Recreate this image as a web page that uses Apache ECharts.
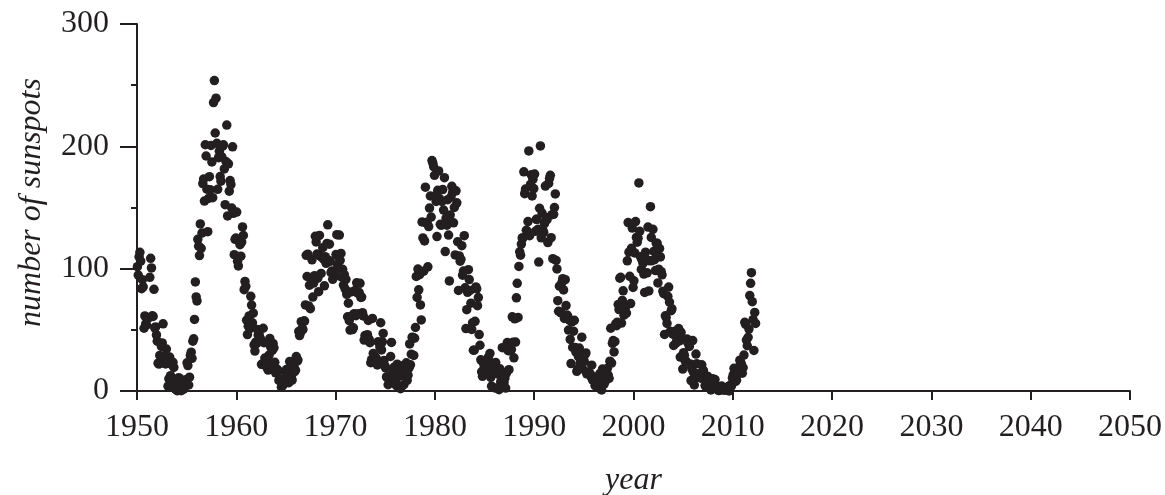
<!DOCTYPE html>
<html>
<head>
<meta charset="utf-8">
<script src="https://cdn.jsdelivr.net/npm/echarts@6/dist/echarts.min.js"></script>
<style>
html,body{margin:0;padding:0;background:#fff;overflow:hidden;}
#chart{width:1165px;height:495px;}
</style>
</head>
<body>
<div id="chart"></div>
<script>
// Monthly sunspot numbers, January of the first year onward
const startYear = 1950;
const spots1950s = [
  101.6, 94.8, 109.7, 113.4, 106.2, 83.6, 91.0, 85.2, 51.3, 61.4, 54.8, 54.1,
  59.9, 59.9, 59.9, 92.9, 108.5, 100.6, 61.5, 61.0, 83.1, 51.6, 52.4, 45.8,
  40.7, 22.7, 22.0, 29.1, 23.4, 36.4, 39.3, 54.9, 28.2, 23.8, 22.1, 34.3,
  26.5, 3.9, 10.0, 27.8, 12.5, 21.8, 8.6, 23.5, 19.3, 8.2, 1.6, 2.5,
  0.2, 0.5, 10.9, 1.8, 0.8, 0.2, 4.8, 8.4, 1.5, 7.0, 9.2, 7.6,
  23.1, 20.8, 4.9, 11.3, 28.9, 31.7, 26.7, 40.7, 42.7, 58.5, 89.2, 76.9,
  73.6, 124.0, 118.4, 110.7, 136.6, 116.6, 129.1, 169.6, 173.2, 155.3, 201.3, 192.1,
  165.0, 130.2, 157.4, 175.2, 164.6, 200.7, 187.2, 158.0, 235.8, 253.8, 210.9, 239.4,
  202.5, 164.9, 190.7, 196.0, 175.3, 171.5, 191.4, 200.2, 201.2, 181.5, 152.3, 187.6,
  217.4, 143.1, 185.7, 163.3, 172.0, 168.7, 149.6, 199.6, 145.2, 111.4, 124.0, 125.0
];
const spots1960s = [
  146.3, 106.0, 102.2, 122.0, 119.6, 110.2, 121.7, 134.1, 127.2, 82.8, 89.6, 85.6,
  57.9, 46.1, 53.0, 61.4, 51.0, 77.4, 70.2, 55.8, 63.6, 37.7, 32.6, 39.9,
  38.7, 50.3, 45.6, 46.4, 43.7, 42.0, 21.8, 21.8, 51.3, 39.5, 26.9, 23.2,
  19.8, 24.4, 17.1, 29.3, 43.0, 35.9, 19.6, 33.2, 38.8, 35.3, 23.4, 14.9,
  15.3, 17.7, 16.5, 8.6, 9.5, 9.1, 3.1, 9.3, 4.7, 6.1, 7.4, 15.1,
  17.5, 14.2, 11.7, 6.8, 24.1, 15.9, 11.9, 8.9, 16.8, 20.1, 15.8, 17.0,
  28.2, 24.4, 25.3, 48.7, 45.3, 47.7, 56.7, 51.2, 50.2, 57.2, 57.2, 70.4,
  110.9, 93.6, 111.8, 69.5, 86.5, 67.3, 91.5, 107.2, 76.8, 88.2, 94.3, 126.4,
  121.8, 111.9, 92.2, 81.2, 127.2, 110.3, 96.1, 109.3, 117.2, 107.7, 86.0, 109.8,
  104.4, 120.5, 135.8, 106.8, 120.0, 106.0, 96.8, 98.0, 91.3, 95.7, 93.5, 97.9
];
const spots1970s = [
  111.5, 127.8, 102.9, 109.5, 127.5, 106.8, 112.5, 93.0, 99.5, 86.6, 95.2, 83.5,
  91.3, 79.0, 60.7, 71.8, 57.5, 49.8, 81.0, 61.4, 50.2, 51.7, 63.2, 82.2,
  61.5, 88.4, 80.1, 63.2, 80.5, 88.0, 76.5, 76.8, 64.0, 61.3, 41.6, 45.3,
  43.4, 42.9, 46.0, 57.7, 42.4, 39.5, 23.1, 25.6, 59.3, 30.7, 23.9, 23.3,
  27.6, 26.0, 21.3, 40.3, 39.5, 36.0, 55.8, 33.6, 40.2, 47.1, 25.0, 20.5,
  18.9, 11.5, 11.5, 5.1, 9.0, 11.4, 28.2, 39.7, 13.9, 9.1, 19.4, 7.8,
  8.1, 4.3, 21.9, 18.8, 12.4, 12.2, 1.9, 16.4, 13.5, 20.6, 5.2, 15.3,
  16.4, 23.1, 8.7, 12.9, 18.6, 38.5, 21.4, 30.1, 44.0, 43.8, 29.1, 43.2,
  51.9, 93.6, 76.5, 99.7, 82.7, 95.1, 70.4, 58.1, 138.2, 125.1, 97.9, 122.7,
  166.6, 137.5, 138.0, 101.5, 134.4, 149.5, 159.4, 142.2, 188.4, 186.2, 183.3, 176.3
];
const spots1980s = [
  159.6, 155.0, 126.2, 164.1, 179.9, 157.3, 136.3, 135.4, 155.0, 164.7, 147.9, 174.4,
  114.0, 141.3, 135.5, 156.4, 127.5, 90.0, 143.8, 158.7, 167.3, 162.4, 137.5, 150.1,
  111.2, 163.6, 153.8, 122.0, 82.2, 110.4, 106.1, 107.6, 118.8, 94.7, 98.1, 127.0,
  84.3, 51.0, 66.5, 80.7, 99.2, 91.1, 82.2, 71.8, 50.3, 55.8, 33.3, 33.4,
  57.0, 85.1, 83.5, 69.7, 76.4, 46.1, 37.4, 25.5, 15.7, 12.0, 22.8, 18.7,
  16.5, 15.9, 17.2, 16.2, 27.5, 24.2, 30.7, 11.1, 3.9, 18.6, 16.2, 17.3,
  2.5, 23.2, 15.1, 18.5, 13.7, 1.1, 18.1, 7.4, 3.8, 35.4, 15.2, 6.8,
  10.4, 2.4, 14.7, 39.6, 33.0, 17.4, 33.0, 38.7, 33.9, 60.6, 39.9, 27.1,
  59.0, 40.0, 76.2, 88.0, 60.1, 101.8, 113.8, 111.0, 120.1, 125.1, 125.1, 179.2,
  161.3, 165.1, 131.4, 130.6, 138.5, 196.2, 126.9, 168.9, 176.7, 159.4, 173.0, 165.5
];
const spots1990s = [
  177.3, 130.5, 140.3, 140.3, 132.2, 105.4, 149.4, 200.3, 125.2, 145.5, 131.4, 129.7,
  136.9, 167.5, 141.9, 140.0, 121.3, 169.7, 173.7, 176.3, 125.3, 144.1, 108.2, 144.4,
  150.0, 161.1, 106.7, 99.8, 73.8, 65.2, 85.7, 64.5, 63.9, 88.7, 91.8, 82.6,
  59.3, 91.0, 69.8, 62.2, 61.3, 49.8, 57.9, 42.2, 22.4, 56.4, 35.6, 48.9,
  57.8, 35.5, 31.7, 16.1, 17.8, 28.0, 35.1, 22.5, 25.7, 44.0, 18.0, 26.2,
  24.2, 29.9, 31.1, 14.0, 14.5, 15.6, 14.5, 14.3, 11.8, 21.1, 9.0, 10.0,
  11.5, 4.4, 9.2, 4.8, 5.5, 11.8, 8.2, 14.4, 1.6, 0.9, 17.9, 13.3,
  5.7, 7.6, 8.7, 15.5, 18.5, 12.7, 10.4, 24.4, 51.3, 22.8, 39.0, 41.2,
  31.9, 40.3, 54.8, 53.4, 56.3, 70.7, 66.6, 92.2, 92.9, 55.5, 74.0, 81.9,
  62.0, 66.3, 68.8, 63.7, 106.4, 137.7, 113.5, 93.7, 71.5, 116.7, 133.2, 84.6
];
const spots2000s = [
  90.1, 112.9, 138.5, 125.5, 121.6, 124.9, 170.1, 130.5, 109.7, 99.4, 106.8, 104.4,
  95.6, 80.6, 113.5, 107.7, 96.6, 134.0, 81.8, 106.4, 150.7, 125.5, 106.5, 132.2,
  114.1, 107.4, 98.4, 120.7, 120.8, 88.3, 99.6, 116.4, 109.6, 97.5, 95.0, 81.6,
  79.5, 46.2, 61.5, 60.0, 55.2, 77.4, 85.0, 72.7, 48.8, 65.6, 67.2, 46.5,
  37.2, 46.0, 48.9, 39.3, 41.5, 43.2, 51.0, 40.9, 27.7, 48.0, 43.5, 17.9,
  31.3, 29.2, 24.5, 24.4, 42.6, 39.6, 39.9, 36.4, 22.1, 8.5, 18.0, 41.2,
  15.3, 4.9, 10.6, 30.2, 22.3, 13.9, 12.2, 12.9, 14.4, 10.5, 21.4, 13.6,
  16.8, 10.7, 4.5, 3.4, 11.7, 12.1, 9.7, 6.0, 2.4, 0.9, 1.7, 10.1,
  3.3, 2.1, 9.3, 2.9, 3.2, 3.4, 0.5, 0.5, 1.1, 2.9, 4.1, 0.8,
  1.5, 1.4, 0.7, 1.2, 2.9, 2.6, 3.5, 0.0, 4.4, 4.6, 4.2, 10.6
];
const spots2010s = [
  13.1, 18.6, 15.4, 7.9, 8.8, 13.5, 16.1, 19.6, 25.2, 23.5, 21.6, 14.5,
  19.0, 29.4, 56.2, 54.4, 41.6, 37.0, 43.9, 50.6, 78.0, 88.0, 96.7, 73.0,
  58.3, 33.1, 64.2, 55.2
];
const xTicks = [1950, 1960, 1970, 1980, 1990, 2000, 2010, 2020, 2030, 2040, 2050];
const yTicks = [0, 100, 200, 300];

const monthly = [].concat(spots1950s, spots1960s, spots1970s, spots1980s, spots1990s, spots2000s, spots2010s);
const points = monthly.map((v, i) => [startYear + (i + 0.5) / 12, v]);

const ink = '#231f20';
const font = 'Liberation Serif';
const chart = echarts.init(document.getElementById('chart'), null, {renderer: 'canvas'});
chart.setOption({
  animation: false,
  backgroundColor: '#ffffff',
  grid: {left: 137, right: 35, top: 24, bottom: 104, containLabel: false, outerBoundsMode: 'none'},
  xAxis: {
    type: 'value',
    min: xTicks[0], max: xTicks[xTicks.length - 1], interval: 10,
    name: 'year', nameLocation: 'middle', nameGap: 74,
    nameTextStyle: {fontFamily: font, fontStyle: 'italic', fontSize: 32, color: ink},
    axisLine: {show: true, lineStyle: {color: ink, width: 2}},
    axisTick: {show: true, length: 9, lineStyle: {color: ink, width: 2}},
    axisLabel: {fontFamily: font, fontSize: 32, color: ink, margin: 21,
      formatter: v => String(v)},
    splitLine: {show: false}
  },
  yAxis: {
    type: 'value',
    min: yTicks[0], max: yTicks[yTicks.length - 1], interval: 100,
    name: 'number of sunspots', nameLocation: 'middle', nameGap: 89, nameRotate: 90,
    nameTextStyle: {fontFamily: font, fontStyle: 'italic', fontSize: 32, color: ink,
      padding: [0, 0, 0, 10]},
    axisLine: {show: true, lineStyle: {color: ink, width: 2}},
    axisTick: {show: true, length: 17, lineStyle: {color: ink, width: 2}},
    minorTick: {show: true, splitNumber: 2, length: 6, lineStyle: {color: ink, width: 2}},
    axisLabel: {fontFamily: font, fontSize: 32, color: ink, margin: 28,
      formatter: v => String(v)},
    splitLine: {show: false},
    minorSplitLine: {show: false}
  },
  series: [{
    type: 'scatter',
    data: points,
    symbol: 'circle',
    symbolSize: 9.5,
    itemStyle: {color: ink, opacity: 1},
    clip: false
  }]
});
</script>
</body>
</html>
